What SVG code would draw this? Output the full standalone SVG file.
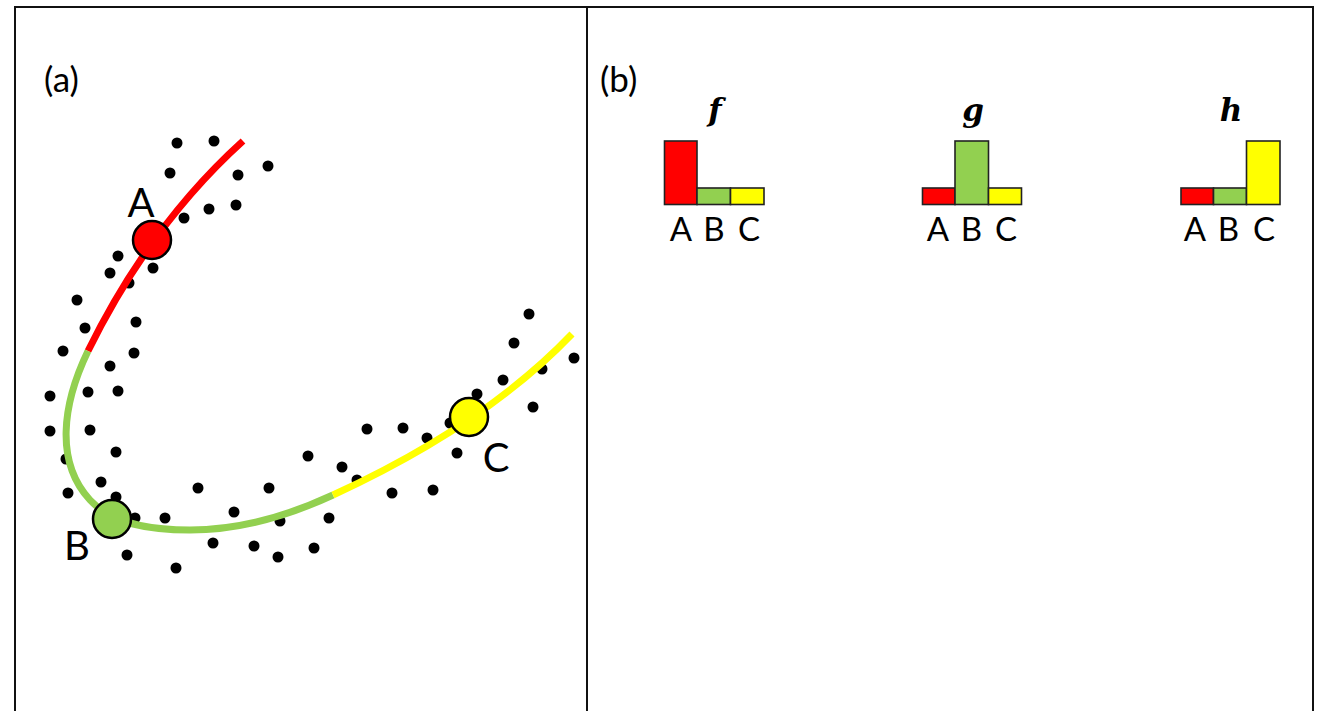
<svg xmlns="http://www.w3.org/2000/svg" width="1317" height="711" viewBox="0 0 1317 711">
<style>
.frame{fill:none;stroke:#111;stroke-width:2}
.dot{fill:#000}
.curve{fill:none;stroke-width:7}
.node{stroke:#000;stroke-width:2.5}
.lbl{font-family:Lato,"Liberation Sans",sans-serif;fill:#000}
.bar{stroke:#222;stroke-width:1.6}
.fn{font-family:"DejaVu Serif","Liberation Serif",serif;font-style:italic;font-weight:bold;font-size:31px;fill:#000;text-anchor:middle}
.red{fill:#FF0000}.green{fill:#92D050}.yellow{fill:#FFFF00}
</style>
<rect width="1317" height="711" fill="#fff"/>
<g id="frame">
<path class="frame" d="M15,720 V7 H1313 V720"/>
<line class="frame" x1="587" y1="7" x2="587" y2="720"/>
</g>
<text class="lbl" x="44" y="92" font-size="35">(a)</text>
<text class="lbl" x="600" y="92" font-size="35">(b)</text>
<g id="dots">
<circle class="dot" cx="177" cy="143" r="5.5"/><circle class="dot" cx="214" cy="141" r="5.5"/><circle class="dot" cx="268" cy="166" r="5.5"/>
<circle class="dot" cx="170" cy="173" r="5.5"/><circle class="dot" cx="238" cy="175" r="5.5"/><circle class="dot" cx="236" cy="205" r="5.5"/>
<circle class="dot" cx="209" cy="209" r="5.5"/><circle class="dot" cx="184" cy="218" r="5.5"/><circle class="dot" cx="118" cy="256" r="5.5"/>
<circle class="dot" cx="153" cy="268" r="5.5"/><circle class="dot" cx="110" cy="273" r="5.5"/><circle class="dot" cx="129" cy="283" r="5.5"/>
<circle class="dot" cx="77" cy="300" r="5.5"/><circle class="dot" cx="136" cy="322" r="5.5"/><circle class="dot" cx="85" cy="328" r="5.5"/>
<circle class="dot" cx="63" cy="351" r="5.5"/><circle class="dot" cx="134" cy="353" r="5.5"/><circle class="dot" cx="110" cy="366" r="5.5"/>
<circle class="dot" cx="50" cy="396" r="5.5"/><circle class="dot" cx="88" cy="392" r="5.5"/><circle class="dot" cx="118" cy="391" r="5.5"/>
<circle class="dot" cx="50" cy="431" r="5.5"/><circle class="dot" cx="90" cy="430" r="5.5"/><circle class="dot" cx="116" cy="452" r="5.5"/>
<circle class="dot" cx="66" cy="459" r="5.5"/><circle class="dot" cx="101" cy="482" r="5.5"/><circle class="dot" cx="68" cy="493" r="5.5"/>
<circle class="dot" cx="116" cy="497" r="5.5"/><circle class="dot" cx="135" cy="518" r="5.5"/><circle class="dot" cx="165" cy="518" r="5.5"/>
<circle class="dot" cx="198" cy="488" r="5.5"/><circle class="dot" cx="269" cy="488" r="5.5"/><circle class="dot" cx="308" cy="456" r="5.5"/>
<circle class="dot" cx="234" cy="512" r="5.5"/><circle class="dot" cx="280" cy="521" r="5.5"/><circle class="dot" cx="329" cy="518" r="5.5"/>
<circle class="dot" cx="213" cy="543" r="5.5"/><circle class="dot" cx="254" cy="546" r="5.5"/><circle class="dot" cx="314" cy="548" r="5.5"/>
<circle class="dot" cx="278" cy="557" r="5.5"/><circle class="dot" cx="127" cy="555" r="5.5"/><circle class="dot" cx="176" cy="568" r="5.5"/>
<circle class="dot" cx="342" cy="467" r="5.5"/><circle class="dot" cx="357" cy="480" r="5.5"/><circle class="dot" cx="392" cy="493" r="5.5"/>
<circle class="dot" cx="433" cy="490" r="5.5"/><circle class="dot" cx="367" cy="429" r="5.5"/><circle class="dot" cx="403" cy="428" r="5.5"/>
<circle class="dot" cx="427" cy="438" r="5.5"/><circle class="dot" cx="450" cy="423" r="5.5"/><circle class="dot" cx="457" cy="453" r="5.5"/>
<circle class="dot" cx="477" cy="394" r="5.5"/><circle class="dot" cx="503" cy="380" r="5.5"/><circle class="dot" cx="533" cy="407" r="5.5"/>
<circle class="dot" cx="514" cy="343" r="5.5"/><circle class="dot" cx="529" cy="314" r="5.5"/><circle class="dot" cx="542" cy="369" r="5.5"/>
<circle class="dot" cx="574" cy="358" r="5.5"/>
</g>
<g id="connectors">
<path class="curve" stroke="#FF0000" d="M243,141 Q150,225 88,351"/>
<path class="curve" stroke="#92D050" d="M88,351 C62,405 55,462 90,500 C112,524 150,530 190,530 C240,530 290,515 333,495"/>
<path class="curve" stroke="#FFFF00" d="M333,495 Q485,425 572,334"/>
</g>
<g id="nodeA"><circle class="node red" cx="152" cy="240" r="19"/><text class="lbl" x="141" y="217" font-size="40" text-anchor="middle">A</text></g>
<g id="nodeB"><circle class="node green" cx="112" cy="519" r="19"/><text class="lbl" x="77" y="560" font-size="40" text-anchor="middle">B</text></g>
<g id="nodeC"><circle class="node yellow" cx="469" cy="417" r="19"/><text class="lbl" x="496" y="472" font-size="40" text-anchor="middle">C</text></g>
<g id="chart-f">
<text class="fn" x="715" y="121">f</text>
<rect class="bar red" x="664.5" y="141" width="32.5" height="63.5"/>
<rect class="bar green" x="697" y="188" width="33.5" height="16.5"/>
<rect class="bar yellow" x="730.5" y="188" width="33.5" height="16.5"/>
<text class="lbl" font-size="33" text-anchor="middle" y="241"><tspan x="681">A</tspan><tspan x="714">B</tspan><tspan x="749">C</tspan></text>
</g>
<g id="chart-g">
<text class="fn" x="973" y="121">g</text>
<rect class="bar red" x="922.5" y="188" width="32.5" height="16.5"/>
<rect class="bar green" x="955" y="141" width="33.5" height="63.5"/>
<rect class="bar yellow" x="988.5" y="188" width="33" height="16.5"/>
<text class="lbl" font-size="33" text-anchor="middle" y="241"><tspan x="938">A</tspan><tspan x="971.5">B</tspan><tspan x="1006">C</tspan></text>
</g>
<g id="chart-h">
<text class="fn" x="1231" y="121">h</text>
<rect class="bar red" x="1181" y="188" width="32.5" height="16.5"/>
<rect class="bar green" x="1213.5" y="188" width="33" height="16.5"/>
<rect class="bar yellow" x="1246.5" y="141" width="33.5" height="63.5"/>
<text class="lbl" font-size="33" text-anchor="middle" y="241"><tspan x="1195">A</tspan><tspan x="1228.5">B</tspan><tspan x="1264">C</tspan></text>
</g>
</svg>
